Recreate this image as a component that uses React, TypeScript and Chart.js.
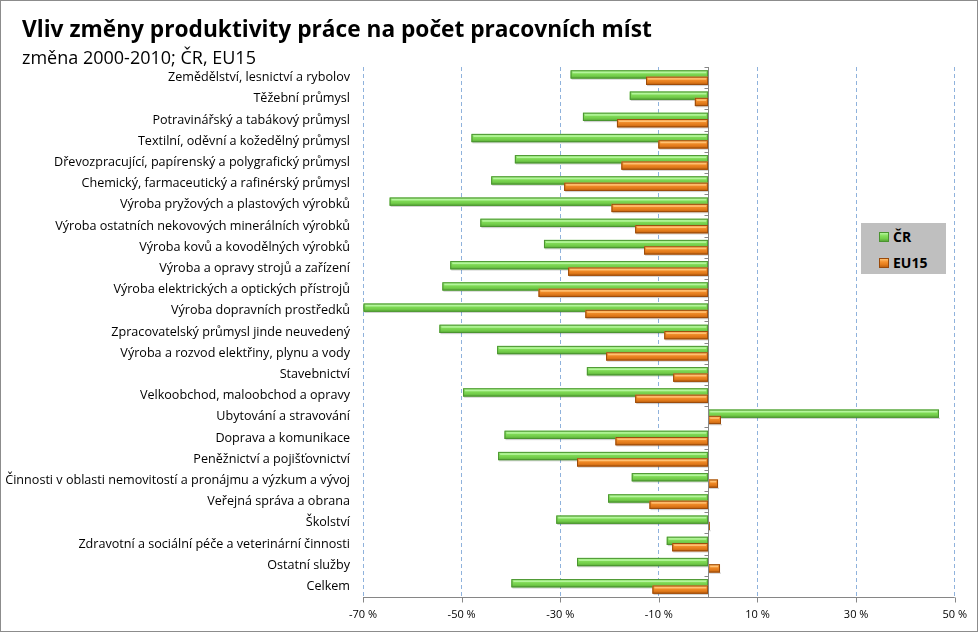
import React, { useEffect, useRef } from "react";
import { Chart, registerables } from "chart.js";
Chart.register(...registerables);

const categories = [
  "Zemědělství, lesnictví a rybolov",
  "Těžební průmysl",
  "Potravinářský a tabákový průmysl",
  "Textilní, oděvní a kožedělný průmysl",
  "Dřevozpracující, papírenský a polygrafický průmysl",
  "Chemický, farmaceutický a rafinérský průmysl",
  "Výroba pryžových a plastových výrobků",
  "Výroba ostatních nekovových minerálních výrobků",
  "Výroba kovů a kovodělných výrobků",
  "Výroba a opravy strojů a zařízení",
  "Výroba elektrických a optických přístrojů",
  "Výroba dopravních prostředků",
  "Zpracovatelský průmysl jinde neuvedený",
  "Výroba a rozvod elektřiny, plynu a vody",
  "Stavebnictví",
  "Velkoobchod, maloobchod a opravy",
  "Ubytování a stravování",
  "Doprava a komunikace",
  "Peněžnictví a pojišťovnictví",
  "Činnosti v oblasti nemovitostí a pronájmu a výzkum a vývoj",
  "Veřejná správa a obrana",
  "Školství",
  "Zdravotní a sociální péče a veterinární činnosti",
  "Ostatní služby",
  "Celkem",
];

const crValues = [
  -27.9, -15.9, -25.4, -48.0, -39.2, -44.0, -64.6, -46.2, -33.3, -52.3, -53.9, -69.9, -54.5,
  -42.8, -24.6, -49.7, 46.8, -41.3, -42.6, -15.5, -20.3, -30.8, -8.4, -26.6, -39.9,
];

const eu15Values = [
  -12.6, -2.7, -18.5, -10.1, -17.6, -29.2, -19.6, -14.8, -13.0, -28.4, -34.4, -24.9, -8.9,
  -20.7, -7.1, -14.8, 2.6, -18.8, -26.6, 2.0, -11.9, 0.3, -7.3, 2.4, -11.3,
];

const seriesLabels = ["ČR", "EU15"];
const tickValues = [-70, -50, -30, -10, 10, 30, 50];

const FONT = "'Open Sans', 'Noto Sans', sans-serif";

const GREEN = { fill: "#74cf4b", light: "#b4f59c", mid: "#86df5c", dark: "#4a9430", shade: "#5aa838" };
const ORANGE = { fill: "#e47c1c", light: "#ffc072", mid: "#f5922e", dark: "#9a4a0a", shade: "#c0620f" };

const decorPlugin = {
  id: "decor",
  beforeDraw(chart: any) {
    const { ctx, width, height } = chart;
    ctx.save();
    ctx.fillStyle = "#ffffff";
    ctx.fillRect(0, 0, width, height);
    ctx.restore();
  },
  afterDatasetsDraw(chart: any) {
    const { ctx, chartArea, scales } = chart;
    const xs = scales.x;
    const ys = scales.y;
    // 3D-looking bars painted over the library's bar elements
    chart.data.datasets.forEach((ds: any, di: number) => {
      const meta = chart.getDatasetMeta(di);
      const pal = di === 0 ? GREEN : ORANGE;
      meta.data.forEach((bar: any) => {
        const { x, y, base, height } = bar.getProps(["x", "y", "base", "height"], true);
        const left = Math.min(x, base);
        const right = Math.max(x, base);
        const top = y - height / 2;
        const bottom = y + height / 2;
        const w = right - left;
        if (w < 1) return;
        ctx.save();
        // soft shadow
        ctx.fillStyle = "rgba(0,0,0,0.18)";
        ctx.fillRect(left + 1, bottom, w, 1.2);
        const g = ctx.createLinearGradient(0, top, 0, bottom);
        g.addColorStop(0, pal.light);
        g.addColorStop(0.3, pal.mid);
        g.addColorStop(0.65, pal.fill);
        g.addColorStop(1, pal.shade);
        ctx.fillStyle = g;
        ctx.fillRect(left, top, w, height);
        ctx.strokeStyle = pal.dark;
        ctx.lineWidth = 1;
        ctx.strokeRect(left + 0.5, top + 0.5, Math.max(w - 1, 0.5), height - 1);
        if (w > 4) {
          ctx.fillStyle = pal.light;
          ctx.fillRect(left + 2, top + 1.5, w - 4, 1.5);
        }
        ctx.restore();
      });
    });
    // zero axis line with tick marks
    const x0 = Math.round(xs.getPixelForValue(0)) + 0.5;
    ctx.save();
    ctx.strokeStyle = "#868686";
    ctx.lineWidth = 1;
    ctx.beginPath();
    ctx.moveTo(x0, chartArea.top);
    ctx.lineTo(x0, chartArea.bottom);
    const n = categories.length;
    const step = (chartArea.bottom - chartArea.top) / n;
    for (let i = 0; i <= n; i++) {
      const yy = Math.round(ys.getPixelForValue(i) - step / 2) + 0.5;
      ctx.moveTo(x0 - 4, yy);
      ctx.lineTo(x0, yy);
    }
    ctx.stroke();
    // bottom axis line with ticks
    const yb = Math.round(chartArea.bottom) + 0.5;
    ctx.beginPath();
    ctx.moveTo(chartArea.left, yb);
    ctx.lineTo(chartArea.right, yb);
    tickValues.forEach((v) => {
      const px = Math.round(xs.getPixelForValue(v)) + 0.5;
      ctx.moveTo(px, yb);
      ctx.lineTo(px, yb + 5);
    });
    ctx.stroke();
    ctx.restore();
  },
  afterDraw(chart: any) {
    const { ctx, width, height } = chart;
    ctx.save();
    ctx.strokeStyle = "#8c8c8c";
    ctx.lineWidth = 1;
    ctx.strokeRect(0.5, 0.5, width - 1, height - 1);
    ctx.restore();
  },
};

function LegendMarker({ color }: { color: typeof GREEN }) {
  return (
    <span
      style={{
        display: "inline-block",
        width: 8,
        height: 8,
        background: `linear-gradient(${color.light}, ${color.mid} 35%, ${color.fill} 70%, ${color.shade})`,
        border: `1px solid ${color.dark}`,
        marginRight: 4,
        verticalAlign: "middle",
        position: "relative",
        top: -1,
      }}
    />
  );
}

export default function App() {
  const canvasRef = useRef<HTMLCanvasElement | null>(null);

  useEffect(() => {
    document.body.style.margin = "0";
    const canvas = canvasRef.current;
    if (!canvas) return;
    const chart = new Chart(canvas, {
      type: "bar",
      data: {
        labels: categories,
        datasets: [
          {
            label: seriesLabels[0],
            data: crValues,
            backgroundColor: GREEN.fill,
            borderColor: GREEN.dark,
            borderWidth: 1,
            borderSkipped: false,
            categoryPercentage: 0.6,
            barPercentage: 1.3,
          },
          {
            label: seriesLabels[1],
            data: eu15Values,
            backgroundColor: ORANGE.fill,
            borderColor: ORANGE.dark,
            borderWidth: 1,
            borderSkipped: false,
            categoryPercentage: 0.6,
            barPercentage: 1.3,
          },
        ],
      },
      options: {
        indexAxis: "y",
        animation: false,
        responsive: false,
        maintainAspectRatio: false,
        layout: { padding: { top: 67, right: 21, left: 0, bottom: 0 } },
        plugins: {
          legend: { display: false },
          tooltip: { enabled: false },
          title: { display: false },
        },
        scales: {
          x: {
            type: "linear",
            min: -70,
            max: 50,
            afterBuildTicks: (scale: any) => {
              scale.ticks = tickValues.map((v) => ({ value: v }));
            },
            afterFit: (scale: any) => {
              scale.height = 35;
            },
            grid: {
              color: "#8fb2dc",
              lineWidth: 1,
              drawTicks: false,
            },
            border: { display: false, dash: [4, 3] },
            ticks: {
              color: "#000",
              font: { family: FONT, size: 11 },
              padding: 11,
              maxRotation: 0,
              callback: (v: any) => `${v} %`,
            },
          },
          y: {
            type: "category",
            afterFit: (scale: any) => {
              scale.width = 363;
            },
            grid: { display: false, drawTicks: false },
            border: { display: false },
            ticks: {
              color: "#000",
              font: { family: FONT, size: 12.6 },
              padding: 13,
              autoSkip: false,
            },
          },
        },
      },
      plugins: [decorPlugin],
    } as any);
    return () => chart.destroy();
  }, []);

  return (
    <div style={{ position: "relative", width: 978, height: 632, fontFamily: FONT }}>
      <canvas ref={canvasRef} width={978} height={632} style={{ display: "block" }} />
      <div
        style={{
          position: "absolute",
          left: 22,
          top: 13,
          fontSize: 22.7,
          fontWeight: 700,
          color: "#000",
          whiteSpace: "nowrap",
          lineHeight: "32px",
        }}
      >
        Vliv změny produktivity práce na počet pracovních míst
      </div>
      <div
        style={{
          position: "absolute",
          left: 22,
          top: 45,
          fontSize: 18,
          color: "#000",
          whiteSpace: "nowrap",
          lineHeight: "24px",
        }}
      >
        změna 2000-2010; ČR, EU15
      </div>
      <div
        style={{
          position: "absolute",
          left: 861,
          top: 223,
          width: 85,
          height: 51,
          background: "#bfbfbf",
          fontSize: 14,
          fontWeight: 700,
          color: "#000",
        }}
      >
        <div style={{ position: "absolute", left: 18, top: 4, lineHeight: "20px", whiteSpace: "nowrap" }}>
          <LegendMarker color={GREEN} />
          {seriesLabels[0]}
        </div>
        <div style={{ position: "absolute", left: 18, top: 30, lineHeight: "20px", whiteSpace: "nowrap" }}>
          <LegendMarker color={ORANGE} />
          {seriesLabels[1]}
        </div>
      </div>
    </div>
  );
}
